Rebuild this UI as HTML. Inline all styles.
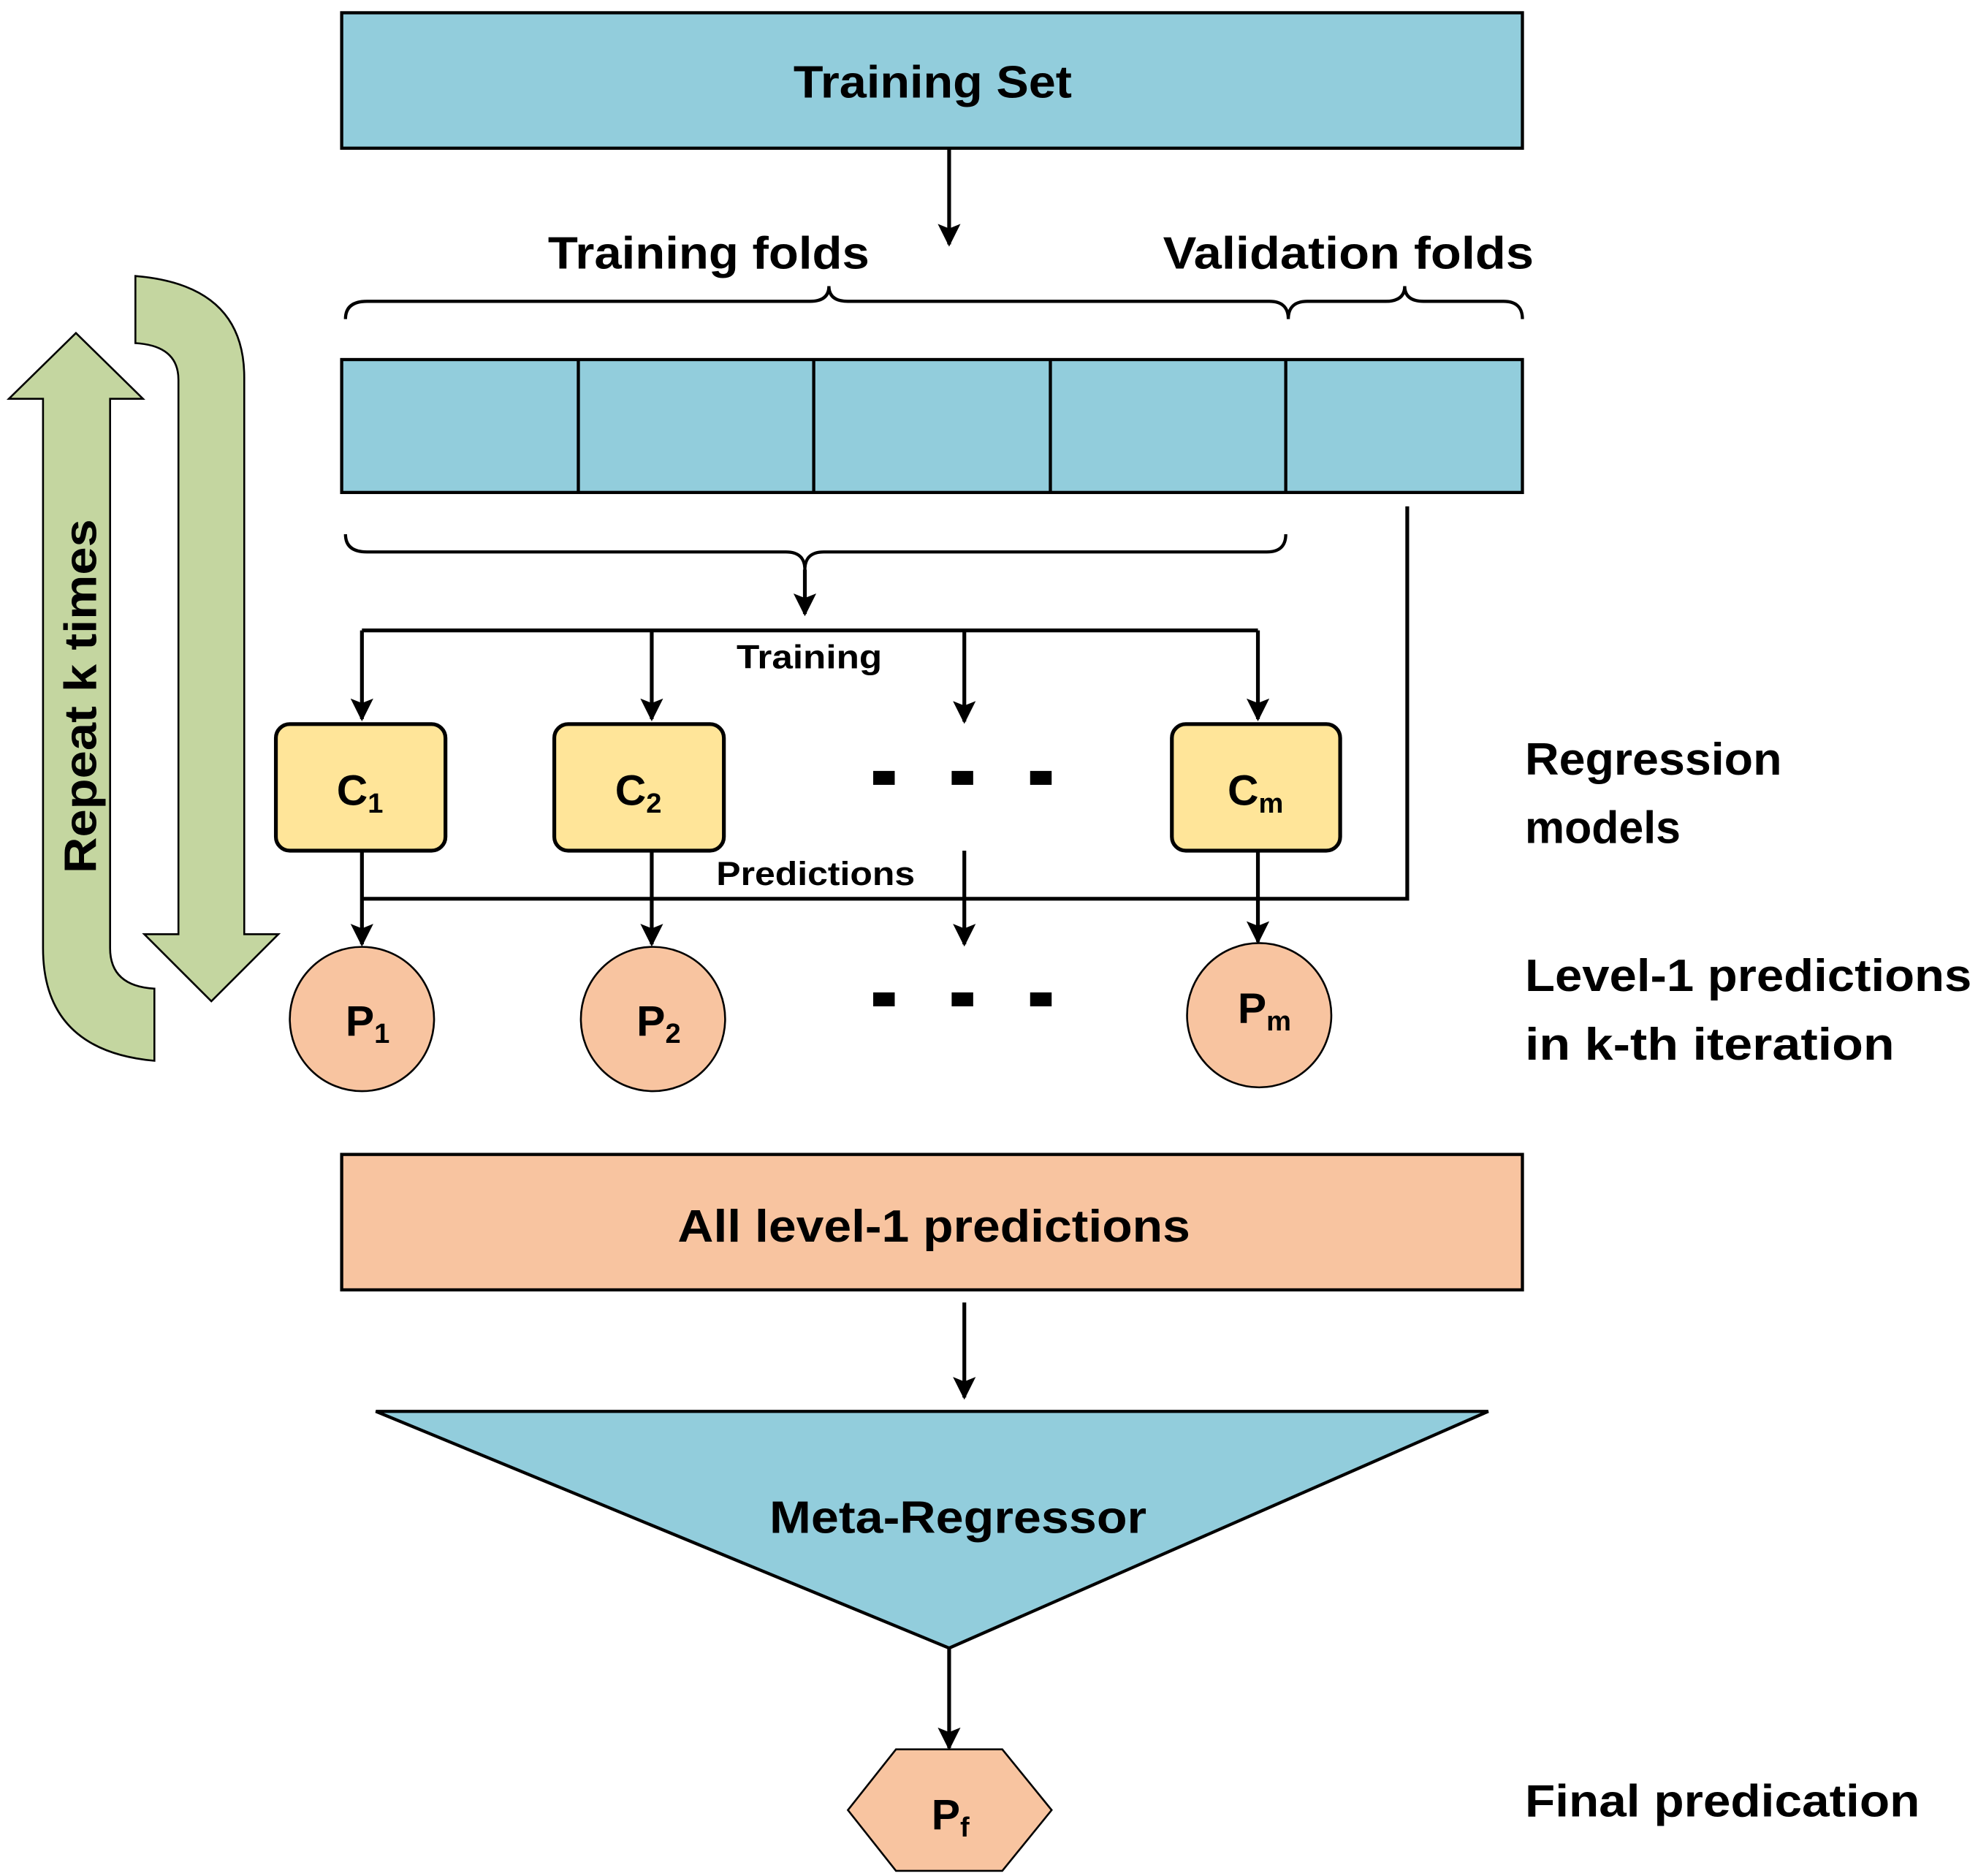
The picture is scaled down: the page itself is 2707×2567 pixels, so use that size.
<!DOCTYPE html>
<html><head><meta charset="utf-8"><style>html,body{margin:0;padding:0;background:#fff}svg{display:block}text{font-family:"Liberation Sans",sans-serif;font-weight:bold;fill:#000}</style></head>
<body>
<svg width="2707" height="2567" viewBox="0 0 1563 1482" xmlns="http://www.w3.org/2000/svg">
<defs>
<marker id="b" viewBox="0 0 10 10" markerWidth="18" markerHeight="18" refX="9" refY="5" orient="auto" markerUnits="userSpaceOnUse"><path d="M0,0 L10,5 L0,10 L2,5 Z" fill="#000"/></marker></defs>
<g stroke="#000" stroke-width="2.5" fill="none">
<path d="M60,263 L113,315 L87,315 L87,749 Q87,779 122,781 L122,838 Q34,830 34,749 L34,315 L7,315 Z" fill="#C4D6A0" stroke-width="1.5"/>
<path d="M107,218 Q193,225 193,298 L193,738 L220,738 L167,791 L114,738 L141,738 L141,300 Q141,273 107,271 Z" fill="#C4D6A0" stroke-width="1.5"/>
<rect x="270" y="10" width="933" height="107" fill="#92CDDC"/>
<rect x="270" y="284" width="933" height="105" fill="#92CDDC"/>
<path d="M457,284V389M643,284V389M830,284V389M1016,284V389"/>
<rect x="270" y="912" width="933" height="107" fill="#F8C4A0"/>
<polygon points="297,1115 1176,1115 750,1302" fill="#92CDDC"/>
<polygon points="670,1430 708,1382 792,1382 831,1430 792,1478 708,1478" fill="#F8C4A0" stroke-width="1.5"/>
<path d="M273,252 Q273,238 290,238 L640,238 Q655,238 655,226 Q655,238 670,238 L1003,238 Q1018,238 1018,252 Q1018,238 1033,238 L1095,238 Q1110,238 1110,226 Q1110,238 1125,238 L1188,238 Q1203,238 1203,252"/>
<path d="M273,422 Q273,436 290,436 L621,436 Q636,436 636,450 Q636,436 651,436 L1001,436 Q1016,436 1016,422"/>
</g>
<g stroke="#000" stroke-width="3" fill="none">
<path d="M750,117V193" marker-end="url(#b)"/>
<path d="M636,450V485" marker-end="url(#b)"/>
<path d="M286,498H994"/>
<path d="M286,498V568" marker-end="url(#b)"/>
<path d="M515,498V568" marker-end="url(#b)"/>
<path d="M994,498V568" marker-end="url(#b)"/>
<path d="M762,498V570" marker-end="url(#b)"/>
<path d="M286,710H1112V400"/>
<path d="M286,672V746" marker-end="url(#b)"/>
<path d="M515,672V746" marker-end="url(#b)"/>
<path d="M994,672V744" marker-end="url(#b)"/>
<path d="M762,672V746" marker-end="url(#b)"/>
<path d="M762,1029V1104" marker-end="url(#b)"/>
<path d="M750,1302V1381" marker-end="url(#b)"/>
</g>
<g stroke="#000" fill="#FFE599" stroke-width="3">
<rect x="218" y="572" width="134" height="100" rx="11"/>
<rect x="438" y="572" width="134" height="100" rx="11"/>
<rect x="926" y="572" width="133" height="100" rx="11"/>
</g>
<g stroke="#000" fill="#F8C4A0" stroke-width="1.5">
<circle cx="286" cy="805" r="57"/>
<circle cx="516" cy="805" r="57"/>
<circle cx="995" cy="802" r="57"/>
</g>
<g fill="#000">
<rect x="690" y="609" width="17" height="11"/><rect x="752" y="609" width="17" height="11"/><rect x="814" y="609" width="17" height="11"/>
<rect x="690" y="784" width="17" height="11"/><rect x="752" y="784" width="17" height="11"/><rect x="814" y="784" width="17" height="11"/>
</g>
<text x="737" y="77" font-size="36" text-anchor="middle" textLength="220" lengthAdjust="spacingAndGlyphs">Training Set</text>
<text x="433" y="212" font-size="36" textLength="254" lengthAdjust="spacingAndGlyphs">Training folds</text>
<text x="919" y="212" font-size="36" textLength="293" lengthAdjust="spacingAndGlyphs">Validation folds</text>
<text x="582" y="528" font-size="26" textLength="115" lengthAdjust="spacingAndGlyphs">Training</text>
<text x="566" y="699" font-size="26" textLength="157" lengthAdjust="spacingAndGlyphs">Predictions</text>
<text x="76" y="690" font-size="36" transform="rotate(-90 76 690)" textLength="280" lengthAdjust="spacingAndGlyphs">Repeat k times</text>
<text x="266" y="636" font-size="34">C<tspan font-size="22" dy="6">1</tspan></text>
<text x="486" y="636" font-size="34">C<tspan font-size="22" dy="6">2</tspan></text>
<text x="970" y="636" font-size="34">C<tspan font-size="22" dy="6">m</tspan></text>
<text x="273" y="818" font-size="34">P<tspan font-size="22" dy="6">1</tspan></text>
<text x="503" y="818" font-size="34">P<tspan font-size="22" dy="6">2</tspan></text>
<text x="978" y="808" font-size="34">P<tspan font-size="22" dy="6">m</tspan></text>
<text x="736" y="1445" font-size="34">P<tspan font-size="22" dy="6">f</tspan></text>
<text x="1205" y="612" font-size="36" textLength="203" lengthAdjust="spacingAndGlyphs">Regression</text>
<text x="1205" y="666" font-size="36" textLength="123" lengthAdjust="spacingAndGlyphs">models</text>
<text x="1205" y="783" font-size="36" textLength="353" lengthAdjust="spacingAndGlyphs">Level-1 predictions</text>
<text x="1205" y="837" font-size="36" textLength="292" lengthAdjust="spacingAndGlyphs">in k-th iteration</text>
<text x="1205" y="1435" font-size="36" textLength="312" lengthAdjust="spacingAndGlyphs">Final predication</text>
<text x="738" y="981" font-size="36" text-anchor="middle" textLength="405" lengthAdjust="spacingAndGlyphs">All level-1 predictions</text>
<text x="757" y="1211" font-size="36" text-anchor="middle" textLength="298" lengthAdjust="spacingAndGlyphs">Meta-Regressor</text>
</svg>
</body></html>
